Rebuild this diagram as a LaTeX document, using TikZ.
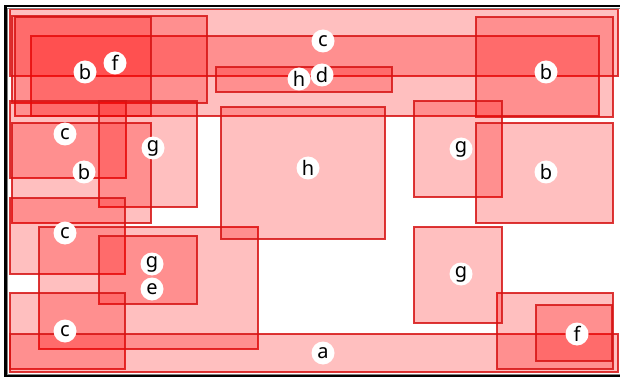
\documentclass[tikz,border=0pt]{standalone}
\usepackage{fontspec}
\setmainfont{Noto Sans}
\definecolor{boxline}{RGB}{214,20,20}
\begin{document}
\begin{tikzpicture}[x=1pt,y=-1pt,
  box/.style={draw=boxline,draw opacity=0.85,line width=1.2pt,fill=red,fill opacity=0.25},
  lbl/.style={circle,fill=white,inner sep=0pt,minimum size=23pt,text=black,font=\fontsize{20}{20}\selectfont,text opacity=1,fill opacity=1}]
\useasboundingbox (0,0) rectangle (620,379);
\fill[white] (0,0) rectangle (620,379);
% rectangles
\draw[box] (10,9) rectangle (618,76);
\draw[box] (31,36) rectangle (599,116);
\draw[box] (12,16) rectangle (207,103);
\draw[box] (15,17) rectangle (151,116);
\draw[box] (476,17) rectangle (613,117);
\draw[box] (216,67) rectangle (392,92);
\draw[box] (10,101) rectangle (126,178);
\draw[box] (99,101) rectangle (197,207);
\draw[box] (12,123) rectangle (151,223);
\draw[box] (10,198) rectangle (125,274);
\draw[box] (39,227) rectangle (258,349);
\draw[box] (99,236) rectangle (197,304);
\draw[box] (10,293) rectangle (125,369);
\draw[box] (10,334) rectangle (618,372);
\draw[box] (497,293) rectangle (613,369);
\draw[box] (536,305) rectangle (612,361);
\draw[box] (414,101) rectangle (502,197);
\draw[box] (414,227) rectangle (502,323);
\draw[box] (476,123) rectangle (613,223);
\draw[box] (221,107) rectangle (385,239);
% frame
\draw[black,line width=2.5pt] (5.3,5.8) rectangle (625,376);
\draw[gray,line width=0.6pt] (7.6,8) rectangle (625,373.8);
% labels
\node[lbl] (c1) at (323,41) {c};
\node[lbl] (d1) at (322,75) {d};
\node[lbl] (h1) at (299,79) {h};
\node[lbl] (b1) at (85,72) {b};
\node[lbl] (f1) at (115,63) {f};
\node[lbl] (b2) at (546,72) {b};
\node[lbl] (c2) at (65,134) {c};
\node[lbl] (g1) at (153,148) {g};
\node[lbl] (b3) at (84,172) {b};
\node[lbl] (c3) at (65,233) {c};
\node[lbl] (h2) at (308,168) {h};
\node[lbl] (g2) at (461,149) {g};
\node[lbl] (b4) at (546,172) {b};
\node[lbl] (g3) at (152,264) {g};
\node[lbl] (e1) at (152,289) {e};
\node[lbl] (c4) at (65,331) {c};
\node[lbl] (a1) at (323,353) {a};
\node[lbl] (g4) at (461,274) {g};
\node[lbl] (f2) at (577,334) {f};
\end{tikzpicture}
\end{document}
